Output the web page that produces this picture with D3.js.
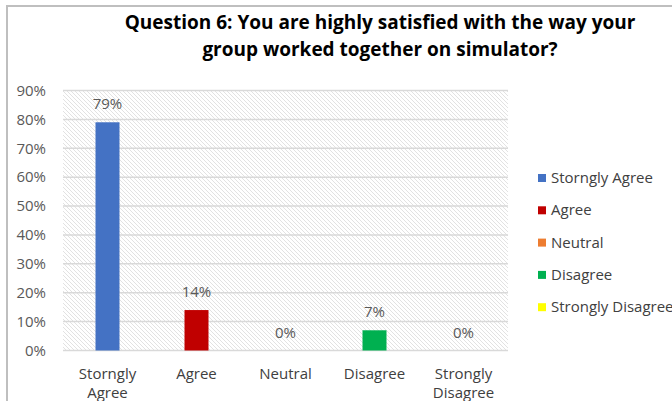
<!DOCTYPE html>
<html><head><meta charset="utf-8">
<script src="https://cdn.jsdelivr.net/npm/d3@7"></script>
<style>body{margin:0;background:#fff}svg{display:block}</style>
</head><body>
<script>
const categories = ["Storngly Agree", "Agree", "Neutral", "Disagree", "Strongly Disagree"];
const values = [0.79, 0.14, 0.00, 0.07, 0.00];
const colors = ["#4472C4", "#C00000", "#ED7D31", "#00B050", "#FFFF00"];
const yTicks = [0, 0.1, 0.2, 0.3, 0.4, 0.5, 0.6, 0.7, 0.8, 0.9];
const titleLines = ["Question 6: You are highly satisfied with the way your", "group worked together on simulator?"];
const categoryLabelLines = [["Storngly", "Agree"], ["Agree"], ["Neutral"], ["Disagree"], ["Strongly", "Disagree"]];

const W = 672, H = 401;
const font = "'Open Sans', sans-serif";
const svg = d3.select("body").append("svg").attr("width", W).attr("height", H);

// chart border
svg.append("path").attr("d", `M7,${H} V6 H${W}`).attr("fill", "none").attr("stroke", "#bfbfbf").attr("stroke-width", 2);

const m = {left: 63, right: 508, top: 90.5, bottom: 350.5};
const x = d3.scaleBand().domain(categories).range([m.left, m.right]);
const y = d3.scaleLinear().domain([0, 0.9]).range([m.bottom, m.top]);

const defs = svg.append("defs");
const pat = defs.append("pattern").attr("id", "hatch").attr("patternUnits", "userSpaceOnUse")
  .attr("width", 4).attr("height", 4);
pat.append("rect").attr("width", 4).attr("height", 4).attr("fill", "#fff");
pat.append("path").attr("d", "M-1,-1 L5,5 M-1,3 L1,5 M3,-1 L5,1").attr("stroke", "#e2e2e2").attr("stroke-width", 1);

svg.append("rect").attr("x", m.left).attr("y", m.top).attr("width", m.right - m.left).attr("height", m.bottom - m.top)
  .attr("fill", "url(#hatch)");

// gridlines
svg.append("g").selectAll("line").data(yTicks).join("line")
  .attr("x1", m.left).attr("x2", m.right)
  .attr("y1", d => y(d)).attr("y2", d => y(d))
  .attr("stroke", "#d9d9d9").attr("stroke-width", 1.5);

// y axis labels
const yAxis = d3.axisLeft(y).tickValues(yTicks).tickFormat(d3.format(".0%")).tickSize(0).tickPadding(17);
const gy = svg.append("g").attr("transform", `translate(${m.left},0)`).call(yAxis);
gy.select(".domain").remove();
gy.selectAll("text").attr("font-family", font).attr("font-size", 15).attr("fill", "#595959");

// bars
svg.append("g").selectAll("rect").data(values).join("rect")
  .attr("x", (d, i) => x(categories[i]) + x.bandwidth() / 2 - 12)
  .attr("width", 24)
  .attr("y", d => y(d)).attr("height", d => y(0) - y(d))
  .attr("fill", (d, i) => colors[i]);

// data labels
svg.append("g").selectAll("text").data(values).join("text")
  .attr("x", (d, i) => x(categories[i]) + x.bandwidth() / 2)
  .attr("y", d => y(d) - 13)
  .attr("text-anchor", "middle")
  .attr("font-family", font).attr("font-size", 15).attr("fill", "#595959")
  .text(d => d3.format(".0%")(d));

// x axis labels
const gx = svg.append("g");
categories.forEach((c, i) => {
  const t = gx.append("text").attr("x", x(c) + x.bandwidth() / 2).attr("y", 379)
    .attr("text-anchor", "middle").attr("font-family", font).attr("font-size", 15).attr("fill", "#404040");
  categoryLabelLines[i].forEach((ln, j) => t.append("tspan").attr("x", x(c) + x.bandwidth() / 2).attr("dy", j ? 19 : 0).text(ln));
});

// title
svg.append("g").selectAll("text").data(titleLines).join("text")
  .attr("x", 380).attr("y", (d, i) => 29 + i * 27)
  .attr("text-anchor", "middle").attr("font-family", font).attr("font-weight", "bold")
  .attr("font-size", 19).attr("fill", "#000").text(d => d);

// legend
const lg = svg.append("g").selectAll("g").data(categories).join("g")
  .attr("transform", (d, i) => `translate(538,${178 + i * 32.3})`);
lg.append("rect").attr("x", 0).attr("y", -4).attr("width", 8).attr("height", 8).attr("fill", (d, i) => colors[i]);
lg.append("text").attr("x", 13).attr("y", 5).attr("font-family", font).attr("font-size", 15)
  .attr("fill", "#404040").text(d => d);
</script>
</body></html>
